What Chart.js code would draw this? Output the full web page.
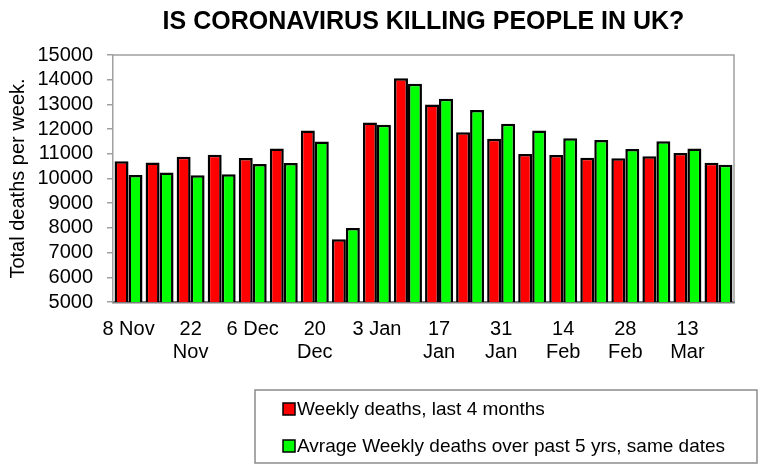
<!DOCTYPE html>
<html>
<head>
<meta charset="utf-8">
<script src="https://cdn.jsdelivr.net/npm/chart.js@4.4.1/dist/chart.umd.min.js"></script>
<style>
  html, body { margin: 0; padding: 0; background: #fff; }
  #wrap { width: 768px; height: 466px; position: relative; }
</style>
</head>
<body>
<div id="wrap"><canvas id="c"></canvas></div>
<script>
const categories = [
  ["8 Nov"], [""], ["22", "Nov"], [""], ["6 Dec"], [""], ["20", "Dec"], [""],
  ["3 Jan"], [""], ["17", "Jan"], [""], ["31", "Jan"], [""], ["14", "Feb"], [""],
  ["28", "Feb"], [""], ["13", "Mar"], [""]
];
const weeklyDeaths = [10700, 10650, 10880, 10960, 10830, 11210, 11940, 7540, 12270, 14060,
                      13000, 11870, 11610, 10990, 10950, 10840, 10820, 10900, 11030, 10640];
const fiveYearAvg  = [10140, 10240, 10130, 10170, 10590, 10630, 11500, 8000, 12180, 13840,
                      13230, 12770, 12220, 11940, 11630, 11560, 11190, 11510, 11210, 10560];
const yTicks = [5000, 6000, 7000, 8000, 9000, 10000, 11000, 12000, 13000, 14000, 15000];
const seriesNames = ["Weekly deaths, last 4 months", "Avrage Weekly deaths over past 5 yrs, same dates"];
const titleText = "IS CORONAVIRUS KILLING PEOPLE IN UK?";
const yTitle = "Total deaths per week.";

const FONT = "'Liberation Sans', Arial, sans-serif";

const framePlugin = {
  id: 'frame',
  afterDatasetsDraw(chart) {
    const {ctx, chartArea: a} = chart;
    ctx.save();
    ctx.strokeStyle = '#a0a0a0';
    ctx.lineWidth = 1.5;
    ctx.beginPath();
    ctx.moveTo(a.left, a.top);
    ctx.lineTo(a.right, a.top);
    ctx.lineTo(a.right, a.bottom);
    ctx.stroke();
    ctx.restore();
  }
};

const legendBoxPlugin = {
  id: 'legendBox',
  afterDraw(chart) {
    const ctx = chart.ctx;
    const left = 255, top = 390, right = 757, bottom = 463;
    ctx.save();
    ctx.strokeStyle = '#8c8c8c';
    ctx.lineWidth = 1.5;
    ctx.strokeRect(left, top, right - left, bottom - top);
    ctx.font = "19px " + FONT;
    ctx.textBaseline = 'middle';
    ctx.textAlign = 'left';
    const rows = [409, 446];
    chart.data.datasets.forEach((ds, i) => {
      const y = rows[i];
      ctx.fillStyle = ds.backgroundColor;
      ctx.fillRect(283, y - 6, 12, 12);
      ctx.strokeStyle = '#000';
      ctx.lineWidth = 1.5;
      ctx.strokeRect(283, y - 6, 12, 12);
      ctx.fillStyle = '#000';
      ctx.fillText(ds.label, 297, y + 1);
    });
    ctx.restore();
  }
};

new Chart(document.getElementById('c'), {
  type: 'bar',
  data: {
    labels: categories,
    datasets: [
      { label: seriesNames[0], data: weeklyDeaths, backgroundColor: '#ff0000',
        borderColor: '#000', borderWidth: 2.5, borderSkipped: false,
        categoryPercentage: 0.9, barPercentage: 1.0 },
      { label: seriesNames[1], data: fiveYearAvg, backgroundColor: '#00ff00',
        borderColor: '#000', borderWidth: 2.5, borderSkipped: false,
        categoryPercentage: 0.9, barPercentage: 1.0 }
    ]
  },
  options: {
    responsive: true,
    maintainAspectRatio: false,
    animation: false,
    layout: { padding: { left: 0, right: 34, top: 0, bottom: 94 } },
    plugins: {
      legend: { display: false },
      tooltip: { enabled: false },
      title: {
        display: true, text: titleText, fullSize: false,
        color: '#000', font: { family: FONT, size: 25, weight: 'bold', lineHeight: 1.2 },
        padding: { top: 7, bottom: 18 }
      }
    },
    scales: {
      x: {
        grid: { display: true, drawOnChartArea: false, drawTicks: false, color: 'rgba(0,0,0,0)' },
        border: { display: true, color: '#7a7a7a', width: 2.5 },
        ticks: {
          autoSkip: false, maxRotation: 0, minRotation: 0, padding: 16,
          color: '#000', font: { family: FONT, size: 20, lineHeight: 1.15 }
        },
        afterFit(scale) { scale.height = 70; }
      },
      y: {
        min: yTicks[0], max: yTicks[yTicks.length - 1],
        afterBuildTicks(scale) { scale.ticks = yTicks.map(v => ({ value: v })); },
        grid: { display: true, drawOnChartArea: false, drawTicks: true, tickLength: 6, color: '#a0a0a0', lineWidth: 1.5 },
        border: { display: true, color: '#a0a0a0', width: 1.5 },
        ticks: {
          autoSkip: false, padding: 14, color: '#000', font: { family: FONT, size: 20, lineHeight: 1 },
          callback: v => String(v)
        },
        title: {
          display: true, text: yTitle, color: '#000',
          font: { family: FONT, size: 20, lineHeight: 1.2 },
          padding: { top: 6, bottom: 0 }
        },
        afterFit(scale) { scale.width = 113; }
      }
    }
  },
  plugins: [framePlugin, legendBoxPlugin]
});
</script>
</body>
</html>
